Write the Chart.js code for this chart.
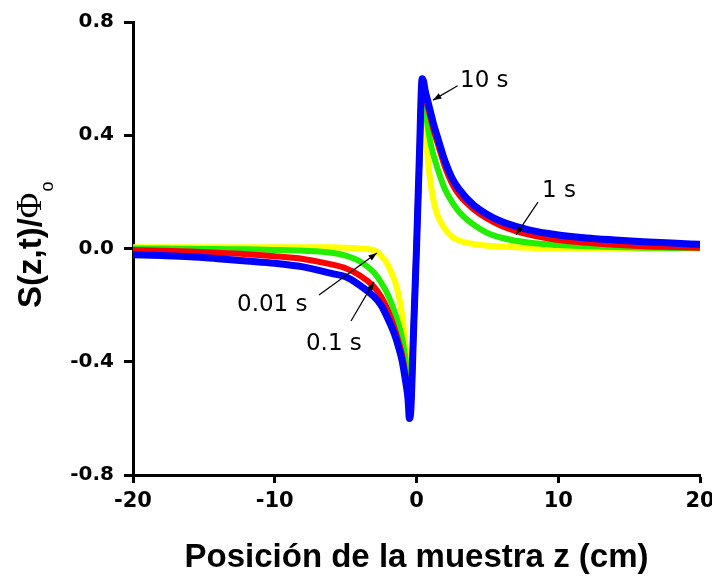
<!DOCTYPE html>
<html>
<head>
<meta charset="utf-8">
<script src="https://cdn.jsdelivr.net/npm/chart.js@4"></script>
<style>
  body { margin: 0; background: #fff; }
  #wrap { width: 712px; height: 579px; position: relative; }
</style>
</head>
<body>
<div id="wrap"><canvas id="chart"></canvas></div>
<script>
// sample position z (cm)
const zValues = [-20, -18, -16, -14, -12, -10, -8, -6, -5, -4, -3, -2.5, -2, -1.5, -1.2, -1, -0.8, -0.6, -0.5, -0.4, -0.2,
  0, 0.2, 0.4, 0.5, 0.6, 0.8, 1, 1.2, 1.5, 2, 2.5, 3, 4, 5, 6, 8, 10, 12, 14, 16, 18, 20];

// S(z,t)/Phi_o for each time
const s10 = [-0.022, -0.025, -0.029, -0.036, -0.044, -0.052, -0.065, -0.088, -0.10, -0.13, -0.17, -0.20, -0.25, -0.31, -0.36, -0.40, -0.46, -0.53, -0.60, -0.57, -0.28,
  0.0, 0.32, 0.60, 0.59, 0.56, 0.52, 0.48, 0.44, 0.39, 0.31, 0.25, 0.21, 0.155, 0.12, 0.095, 0.065, 0.048, 0.037, 0.030, 0.024, 0.019, 0.015];
const s1 = [-0.005, -0.008, -0.011, -0.015, -0.020, -0.027, -0.037, -0.056, -0.07, -0.095, -0.135, -0.17, -0.22, -0.29, -0.34, -0.38, -0.44, -0.51, -0.57, -0.55, -0.28,
  0.0, 0.31, 0.58, 0.57, 0.54, 0.50, 0.46, 0.42, 0.37, 0.29, 0.23, 0.19, 0.14, 0.105, 0.08, 0.048, 0.030, 0.020, 0.013, 0.008, 0.005, 0.003];
const s01 = [0.0, 0.0, -0.001, -0.002, -0.003, -0.005, -0.008, -0.015, -0.025, -0.045, -0.085, -0.12, -0.165, -0.23, -0.28, -0.32, -0.38, -0.46, -0.52, -0.54, -0.28,
  0.0, 0.30, 0.56, 0.54, 0.50, 0.43, 0.37, 0.33, 0.28, 0.21, 0.165, 0.13, 0.085, 0.055, 0.038, 0.020, 0.012, 0.008, 0.005, 0.003, 0.002, 0.001];
const s001 = [0.004, 0.004, 0.004, 0.004, 0.004, 0.004, 0.004, 0.004, 0.003, 0.0, -0.006, -0.025, -0.06, -0.12, -0.18, -0.24, -0.33, -0.42, -0.48, -0.50, -0.27,
  0.0, 0.30, 0.55, 0.50, 0.42, 0.31, 0.23, 0.17, 0.115, 0.07, 0.042, 0.028, 0.016, 0.010, 0.007, 0.003, 0.001, 0, 0, 0, 0, 0];

// labels on the curves (data coordinates)
const notes = [
  { text: '10 s', x: 3.07, y: 0.570, from: [2.9, 0.575], to: [1.16, 0.524] },
  { text: '1 s', x: 8.85, y: 0.182, from: [8.57, 0.164], to: [7.02, 0.048] },
  { text: '0.01 s', x: -12.66, y: -0.221, from: [-6.88, -0.164], to: [-2.79, -0.016] },
  { text: '0.1 s', x: -7.8, y: -0.359, from: [-4.62, -0.256], to: [-3.0, -0.118] }
];

function toPoints(ys) {
  return zValues.map((z, i) => ({ x: z, y: ys[i] }));
}

const notesPlugin = {
  id: 'notes',
  afterDatasetsDraw(chart) {
    const ctx = chart.ctx;
    const xs = chart.scales.x, ys = chart.scales.y;
    ctx.save();
    ctx.fillStyle = '#000';
    ctx.strokeStyle = '#000';
    ctx.font = '23px "DejaVu Sans"';
    ctx.textBaseline = 'alphabetic';
    notes.forEach((n) => {
      ctx.fillText(n.text, xs.getPixelForValue(n.x), ys.getPixelForValue(n.y));
      const x1 = xs.getPixelForValue(n.from[0]), y1 = ys.getPixelForValue(n.from[1]);
      const x2 = xs.getPixelForValue(n.to[0]), y2 = ys.getPixelForValue(n.to[1]);
      ctx.lineWidth = 1.2;
      ctx.beginPath();
      ctx.moveTo(x1, y1);
      ctx.lineTo(x2, y2);
      ctx.stroke();
      const a = Math.atan2(y2 - y1, x2 - x1);
      ctx.beginPath();
      ctx.moveTo(x2, y2);
      ctx.lineTo(x2 - 9 * Math.cos(a - 0.35), y2 - 9 * Math.sin(a - 0.35));
      ctx.lineTo(x2 - 9 * Math.cos(a + 0.35), y2 - 9 * Math.sin(a + 0.35));
      ctx.closePath();
      ctx.fill();
    });
    ctx.restore();
  },
  afterDraw(chart) {
    // y axis title with Phi and subscript
    const ctx = chart.ctx;
    ctx.save();
    ctx.translate(41, 308);
    ctx.rotate(-Math.PI / 2);
    ctx.fillStyle = '#000';
    ctx.textBaseline = 'alphabetic';
    ctx.font = 'bold 33px "Liberation Sans"';
    ctx.fillText('S(z,t)/', 0, 0);
    let w = ctx.measureText('S(z,t)/').width;
    ctx.font = '35px "Liberation Serif"';
    ctx.fillText('\u03A6', w, 0);
    w += ctx.measureText('\u03A6').width;
    ctx.font = '18px "Liberation Sans"';
    ctx.fillText('o', w + 1, 12);
    ctx.restore();
  }
};

new Chart(document.getElementById('chart'), {
  type: 'line',
  data: {
    datasets: [
      { label: '10 s', data: toPoints(s10), borderColor: '#0000ff', borderWidth: 7, order: 0 },
      { label: '1 s', data: toPoints(s1), borderColor: '#ff0000', borderWidth: 6, order: 1 },
      { label: '0.1 s', data: toPoints(s01), borderColor: '#22ee00', borderWidth: 6, order: 2 },
      { label: '0.01 s', data: toPoints(s001), borderColor: '#ffff00', borderWidth: 6, order: 3 }
    ]
  },
  options: {
    responsive: true,
    maintainAspectRatio: false,
    animation: false,
    layout: { padding: { top: 22, right: 12, left: 0, bottom: 0 } },
    elements: {
      point: { radius: 0 },
      line: { cubicInterpolationMode: 'monotone', fill: false }
    },
    plugins: {
      legend: { display: false },
      tooltip: { enabled: false }
    },
    scales: {
      x: {
        type: 'linear',
        min: -20,
        max: 20,
        ticks: {
          stepSize: 10,
          color: '#000',
          padding: 6,
          font: { family: 'DejaVu Sans', weight: 'bold', size: 21 }
        },
        grid: { drawOnChartArea: false, drawTicks: true, tickLength: 8, tickWidth: 3, tickColor: '#000' },
        border: { display: true, color: '#000', width: 3 },
        title: {
          display: true,
          text: 'Posición de la muestra z (cm)',
          color: '#000',
          font: { family: 'Liberation Sans', weight: 'bold', size: 33 },
          padding: { top: 0, bottom: 1 }
        },
        afterFit(scale) {
          scale.height = 104;
          scale.paddingLeft = 0;
          scale.paddingRight = 0;
        }
      },
      y: {
        min: -0.8,
        max: 0.8,
        ticks: {
          stepSize: 0.4,
          color: '#000',
          padding: 10,
          font: { family: 'DejaVu Sans', weight: 'bold', size: 20 },
          callback: (v) => (Math.abs(v) < 1e-9 ? '0.0' : v.toFixed(1))
        },
        grid: { drawOnChartArea: false, drawTicks: true, tickLength: 9, tickWidth: 3, tickColor: '#000' },
        border: { display: true, color: '#000', width: 3 },
        afterFit(scale) {
          scale.width = 133;
          scale.paddingTop = 0;
          scale.paddingBottom = 0;
        }
      }
    }
  },
  plugins: [notesPlugin]
});
</script>
</body>
</html>
